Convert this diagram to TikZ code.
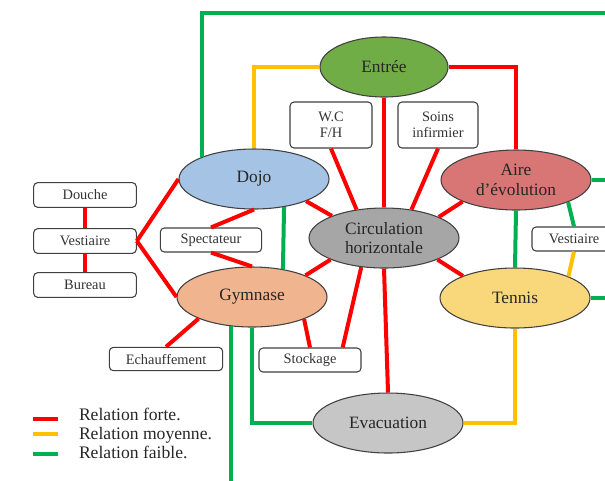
\documentclass[tikz,border=0pt]{standalone}
\usepackage{fontspec}
\setmainfont{Liberation Serif}
\usetikzlibrary{shapes.geometric}
\definecolor{forteRed}{HTML}{FF0000}
\definecolor{moyYellow}{HTML}{FFC000}
\definecolor{faibleGreen}{HTML}{00B050}
\definecolor{cEntree}{HTML}{70AD47}
\definecolor{cDojo}{HTML}{A5C3E4}
\definecolor{cAire}{HTML}{D87575}
\definecolor{cCirc}{HTML}{A6A6A6}
\definecolor{cGym}{HTML}{F0B48E}
\definecolor{cTennis}{HTML}{F8D87B}
\definecolor{cEvac}{HTML}{C6C6C6}
\begin{document}
\begin{tikzpicture}[x=0.75pt, y=-0.75pt, line width=3pt,
    zone/.style={ellipse, draw=black!75, line width=0.8pt, inner sep=0pt, minimum width=112.5pt, minimum height=45pt, align=center, text=black!85, font=\fontsize{13}{14.5}\selectfont},
    local/.style={rectangle, rounded corners=3pt, draw=black!75, fill=white, line width=0.8pt, inner sep=0pt, minimum width=76.5pt, minimum height=18.5pt, align=center, text=black!80, font=\fontsize{10.8}{12}\selectfont},
    legende/.style={anchor=base west, inner sep=0pt, text=black!85, font=\fontsize{13.2}{14}\selectfont},
    forte/.style={draw=forteRed},
    moyenne/.style={draw=moyYellow},
    faible/.style={draw=faibleGreen}]
        \useasboundingbox (0,0) rectangle (605,480);
        \clip (0,0) rectangle (605,480);

        % Nodes
        \node (Entree) [zone, fill=cEntree, minimum width=96pt] at (384,67) {Entrée};
        \node (Dojo) [zone, fill=cDojo] at (254,179) {Dojo};
        \node (Aire) [zone, fill=cAire] at (516,180) {Aire\\d’évolution};
        \node (Circ) [zone, fill=cCirc] at (384,238) {Circulation\\horizontale};
        \node (Gym) [zone, fill=cGym] at (252,297) {Gymnase};
        \node (Tennis) [zone, fill=cTennis] at (515,298) {Tennis};
        \node (Evac) [zone, fill=cEvac] at (388,423) {Evacuation};

        \node (Douche) [local, minimum width=77pt] at (85,195) {Douche};
        \node (VestL) [local, minimum width=77pt] at (85,241) {Vestiaire};
        \node (Bureau) [local, minimum width=77pt] at (85,285) {Bureau};
        \node (Spect) [local, minimum width=76pt, minimum height=18pt] at (211,240) {Spectateur};
        \node (Echauf) [local, minimum width=85pt, minimum height=17.5pt] at (166,359) {Echauffement};
        \node (Stock) [local, minimum height=18pt] at (310,360) {Stockage};
        \node (WC) [local, minimum width=61.5pt, minimum height=34.5pt] at (331,125) {W.C\\F/H};
        \node (Soins) [local, minimum width=60pt, minimum height=34.5pt] at (438,125) {Soins\\infirmier};
        \node (VestR) [local, minimum width=63pt, minimum height=18pt] at (574,239) {Vestiaire};

        \coordinate (farTop) at (625,13);
        \coordinate (farAire) at (625,180);
        \coordinate (farTennis) at (625,298);
        \coordinate (gymFoot) at (232,500);

        % Edges: relation forte
        \draw[forte] (Douche) -- (VestL);
        \draw[forte] (VestL) -- (Bureau);
        \draw[forte] (VestL.east) -- (Dojo.west);
        \draw[forte] (VestL.east) -- (Gym.west);
        \draw[forte] (Dojo.south) -- (Spect.north);
        \draw[forte] (Spect.south) -- (Gym.north);
        \draw[forte] (Dojo.-23) -- (Circ.157);
        \draw[forte] (WC.south) -- (Circ.134);
        \draw[forte] (Entree.south) -- (Circ.north);
        \draw[forte] (Soins.south) -- (Circ.46);
        \draw[forte] (Aire.-158) -- (Circ.21);
        \draw[forte] (Entree.east) -| (Aire.north);
        \draw[forte] (Circ.-22) -- (Tennis.157);
        \draw[forte] (Circ.-158) -- (Gym.22);
        \draw[forte] (Circ.-128) -- (Stock.21);
        \draw[forte] (Gym.-23) -- (Stock.north);
        \draw[forte] (Gym.-158) -- (Echauf.north);
        \draw[forte] (Circ.south) -- (Evac.north);

        % Edges: relation moyenne
        \draw[moyenne] (Dojo.north) |- (Entree.west);
        \draw[moyenne] (Tennis.south) |- (Evac.east);
        \draw[moyenne] (Tennis.22) -- (VestR.south);

        % Edges: relation faible
        \draw[faible] (Dojo.157) |- (farTop);
        \draw[faible] (Aire.east) -- (farAire);
        \draw[faible] (Tennis.east) -- (farTennis);
        \draw[faible] (Aire.south) -- (Tennis.north);
        \draw[faible] (Aire.-23) -- (VestR.north);
        \draw[faible] (Dojo.-43) -- (Gym.42);
        \draw[faible] (Gym.-125) -- (Gym.-125 |- gymFoot);
        \draw[faible] (Gym.south) |- (Evac.west);

        % Legend
        \coordinate (lgA1) at (33,419);
        \coordinate (lgA2) at (58,419);
        \coordinate (lgB1) at (33,434);
        \coordinate (lgB2) at (58,434);
        \coordinate (lgC1) at (33,454);
        \coordinate (lgC2) at (58,454);
        \draw[forte] (lgA1) -- (lgA2);
        \draw[moyenne] (lgB1) -- (lgB2);
        \draw[faible] (lgC1) -- (lgC2);
        \node (lgA) [legende] at (77,420) {Relation forte.};
        \node (lgB) [legende] at (77,439) {Relation moyenne.};
        \node (lgC) [legende] at (77,458) {Relation faible.};
    \end{tikzpicture}
\end{document}
